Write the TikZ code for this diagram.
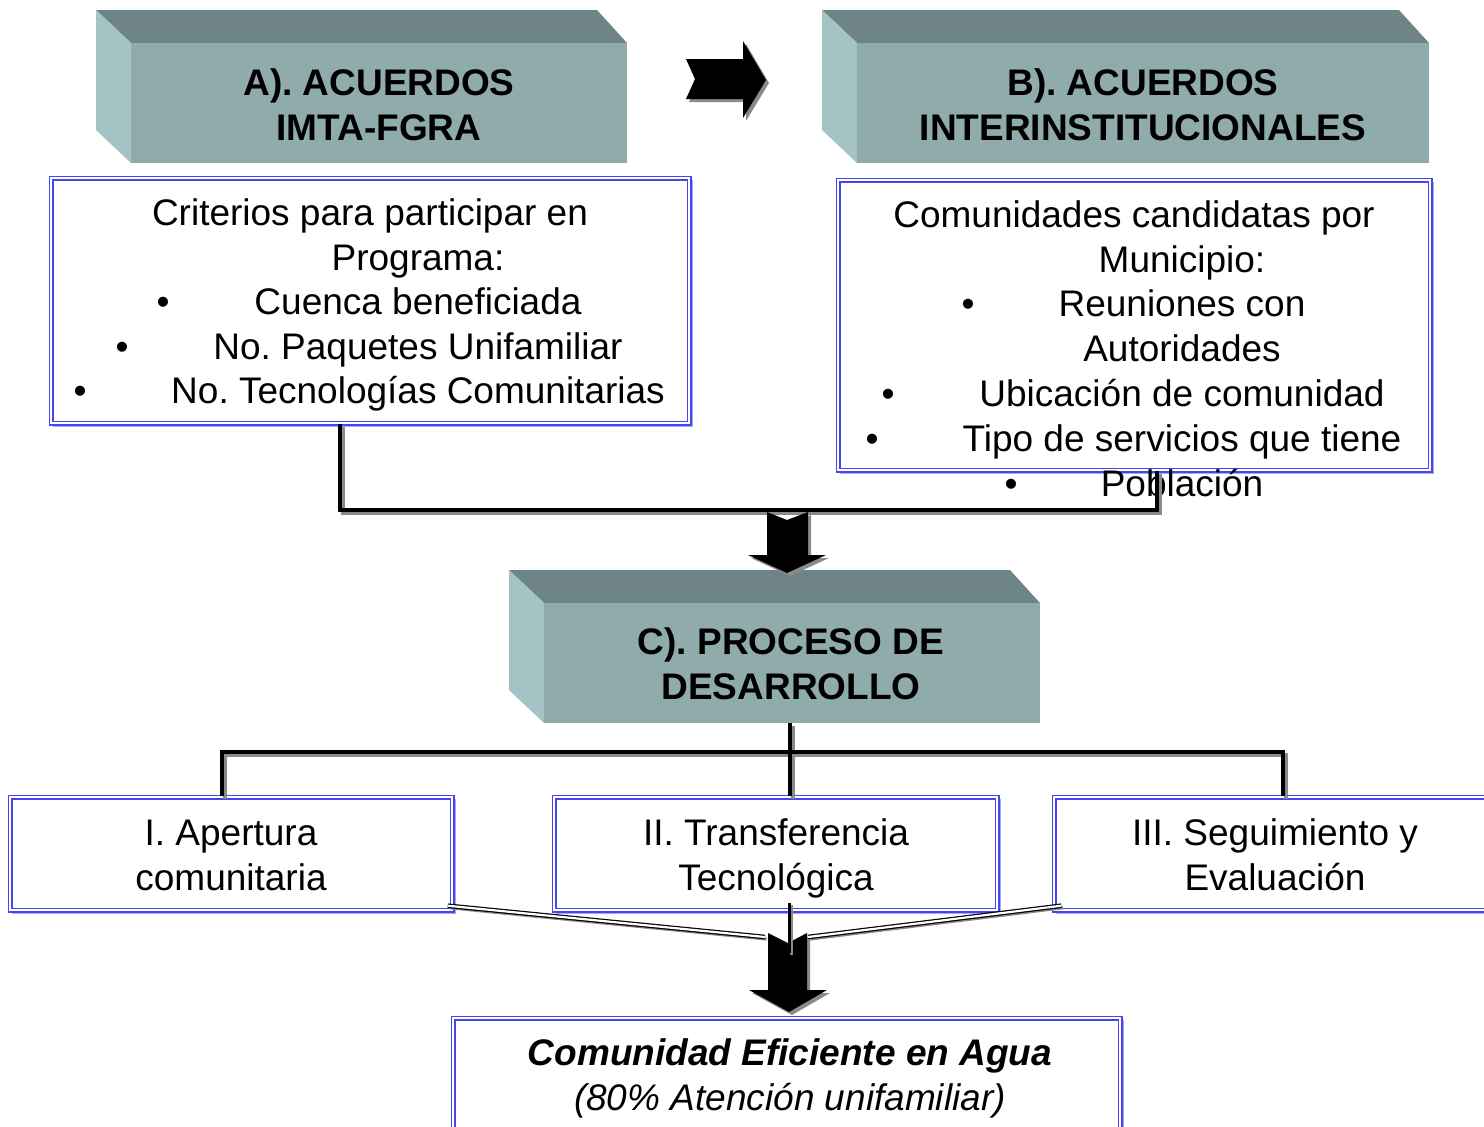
\documentclass[tikz,border=0pt]{standalone}
\usepackage{fontspec}
\setmainfont{Liberation Sans}
\definecolor{topc}{HTML}{6F8486}
\definecolor{frontc}{HTML}{8FABAC}
\definecolor{leftc}{HTML}{A4C3C4}
\definecolor{boxblue}{HTML}{4646EE}
\definecolor{boxshad}{HTML}{A8A8F4}
\definecolor{shadg}{HTML}{8A8A8A}
\begin{document}
\begin{tikzpicture}[x=0.5pt,y=-0.5pt,
  txt/.style={font=\fontsize{18.5pt}{22.5pt}\selectfont, inner sep=0pt, text height=13.2pt, text depth=0pt, anchor=center},
  hd/.style={txt, font=\fontsize{18.5pt}{22.5pt}\selectfont\bfseries},
  front/.style={fill=frontc, inner sep=0pt},
  bluebox/.style={draw=boxblue, line width=0.7pt, double=white, double distance=1.1pt, fill=white, inner sep=0pt},
  boxsh/.style={draw=boxshad, line width=1.2pt},
  conn/.style={line width=2pt, black},
  connsh/.style={line width=2pt, shadg, transform canvas={xshift=1.5pt, yshift=-1.5pt}},
  dbl/.style={draw=black, line width=0.6pt, double=white, double distance=1.1pt},
  dblsh/.style={draw=shadg, line width=1.6pt, transform canvas={xshift=0.8pt, yshift=-1pt}},
  arr/.style={fill=black},
  arrsh/.style={fill=shadg, xshift=1.5pt, yshift=-1.5pt}
]
\useasboundingbox (0,0) rectangle (1484,1126);

% ---------- bevel box A ----------
\fill[topc] (96,10) -- (597,10) -- (627,43) -- (131,43) -- cycle;
\fill[leftc] (96,10) -- (131,43) -- (131,163) -- (96,130) -- cycle;
\node (A) [front, minimum width=248pt, minimum height=60pt] at (379,103) {};
\node (a1) [hd] at (379,82) {A). ACUERDOS};
\node (a2) [hd] at (379,127) {IMTA-FGRA};

% ---------- bevel box B ----------
\fill[topc] (822,10) -- (1399,10) -- (1429,43) -- (857,43) -- cycle;
\fill[leftc] (822,10) -- (857,43) -- (857,163) -- (822,130) -- cycle;
\node (B) [front, minimum width=286pt, minimum height=60pt] at (1143,103) {};
\node (b1) [hd] at (1143,82) {B). ACUERDOS};
\node (b2) [hd] at (1143,127) {INTERINSTITUCIONALES};

% ---------- bevel box C ----------
\fill[topc] (509,570) -- (1010,570) -- (1040,603) -- (544,603) -- cycle;
\fill[leftc] (509,570) -- (544,603) -- (544,723) -- (509,690) -- cycle;
\node (C) [front, minimum width=248pt, minimum height=60pt] at (792,663) {};
\node (c1) [hd] at (791,641) {C). PROCESO DE};
\node (c2) [hd] at (791,686) {DESARROLLO};

% ---------- right arrow A -> B ----------
\fill[arrsh] (686,59) -- (743,59) -- (743,41) -- (766,80) -- (743,118) -- (743,99) -- (686,99) -- (695,79) -- cycle;
\fill[arr] (686,59) -- (743,59) -- (743,41) -- (766,80) -- (743,118) -- (743,99) -- (686,99) -- (695,79) -- cycle;

% ---------- text box A ----------
\draw[boxsh] (54,181) rectangle (692,426);
\node (boxA) [bluebox, minimum width=319pt, minimum height=122.5pt] at (370,300.5) {};
\node (ta1) [txt] at (370,212) {Criterios para participar en};
\node (ta2) [txt] at (418,257) {Programa:};
\node (ta3) [txt] at (418,301) {Cuenca beneficiada};
\node (ta4) [txt] at (418,346) {No.\ Paquetes Unifamiliar};
\node (ta5) [txt] at (418,390) {No.\ Tecnologías Comunitarias};
\node (ba3) [txt] at (163,301) {•};
\node (ba4) [txt] at (122,346) {•};
\node (ba5) [txt] at (80,390) {•};

% ---------- text box B ----------
\draw[boxsh] (841,183) rectangle (1433,473);
\node (boxB) [bluebox, minimum width=296pt, minimum height=145pt] at (1134,325) {};
\node (tb1) [txt] at (1134,214) {Comunidades candidatas por};
\node (tb2) [txt] at (1182,259) {Municipio:};
\node (tb3) [txt] at (1182,303) {Reuniones con};
\node (tb4) [txt] at (1182,348) {Autoridades};
\node (tb5) [txt] at (1182,393) {Ubicación de comunidad};
\node (tb6) [txt] at (1182,438) {Tipo de servicios que tiene};
\node (tb7) [txt] at (1182,483) {Población};
\node (bb3) [txt] at (968,303) {•};
\node (bb5) [txt] at (888,393) {•};
\node (bb6) [txt] at (872,438) {•};
\node (bb7) [txt] at (1011,483) {•};

% ---------- connector A,B -> C ----------
\coordinate (j1) at (340,510);
\coordinate (j2) at (1157,510);
\draw[connsh] (j1 |- boxA.south) -- (j1) -- (j2) -- (j2 |- boxB.south);
\draw[conn] (j1 |- boxA.south) -- (j1) -- (j2) -- (j2 |- boxB.south);

% ---------- down arrow into C ----------
\fill[arrsh] (767,512) -- (787,520) -- (808,512) -- (808,555) -- (826,555) -- (787,573) -- (748,555) -- (767,555) -- cycle;
\fill[arr] (767,512) -- (787,520) -- (808,512) -- (808,555) -- (826,555) -- (787,573) -- (748,555) -- (767,555) -- cycle;

% ---------- boxes I, II, III ----------
\draw[boxsh] (13,800) rectangle (455,913);
\node (I) [bluebox, minimum width=221pt, minimum height=56.5pt] at (231,853.5) {};
\node (i1) [txt] at (231,832) {I. Apertura};
\node (i2) [txt] at (231,877) {comunitaria};

\draw[boxsh] (557,800) rectangle (1000,913);
\node (II) [bluebox, minimum width=221.5pt, minimum height=56.5pt] at (775.5,853.5) {};
\node (ii1) [txt] at (776,832) {II. Transferencia};
\node (ii2) [txt] at (776,877) {Tecnológica};

\draw[boxsh] (1057,800) rectangle (1499,913);
\node (III) [bluebox, minimum width=221pt, minimum height=56.5pt] at (1275,853.5) {};
\node (iii1) [txt] at (1275,832) {III. Seguimiento y};
\node (iii2) [txt] at (1275,877) {Evaluación};

% ---------- connector C -> I, II, III ----------
\coordinate (h1) at (222,752);
\coordinate (h2) at (790,752);
\coordinate (h3) at (1283,752);
\draw[connsh] (h2 |- C.south) -- (h2);
\draw[connsh] (h1 |- I.north) -- (h1) -- (h3) -- (h3 |- III.north);
\draw[connsh] (h2) -- (h2 |- II.north);
\draw[conn] (h2 |- C.south) -- (h2);
\draw[conn] (h1 |- I.north) -- (h1) -- (h3) -- (h3 |- III.north);
\draw[conn] (h2) -- (h2 |- II.north);

% ---------- down arrow into result ----------
\fill[arrsh] (768,933) -- (788,943) -- (807,933) -- (807,990) -- (827,990) -- (789,1012) -- (749,990) -- (768,990) -- cycle;
\fill[arr] (768,933) -- (788,943) -- (807,933) -- (807,990) -- (827,990) -- (789,1012) -- (749,990) -- (768,990) -- cycle;

% ---------- converging double lines ----------
\coordinate (m1) at (765,937);
\coordinate (m3) at (808,937);
\coordinate (m2) at (789,953);
\draw[dblsh] ([shift={(-5,-5)}]I.south east) -- (m1);
\draw[dblsh] ([shift={(8,-5)}]III.south west) -- (m3);
\draw[dbl] ([shift={(-5,-5)}]I.south east) -- (m1);
\draw[dbl] ([shift={(8,-5)}]III.south west) -- (m3);
\draw[line width=1.5pt, shadg] (791,905) -- (791,955);
\draw[line width=1.5pt, black] (789,903) -- (m2);

% ---------- result box ----------
\draw[boxsh] (456,1021) rectangle (1123,1140);
\node (R) [bluebox, minimum width=333.5pt, minimum height=60pt] at (786.5,1078) {};
\node (r1) [txt, font=\fontsize{18.5pt}{22.5pt}\selectfont\bfseries\itshape] at (790,1052) {Comunidad Eficiente en Agua};
\node (r2) [txt, font=\fontsize{18.5pt}{22.5pt}\selectfont\itshape] at (790,1097) {(80\% Atención unifamiliar)};
\end{tikzpicture}
\end{document}
